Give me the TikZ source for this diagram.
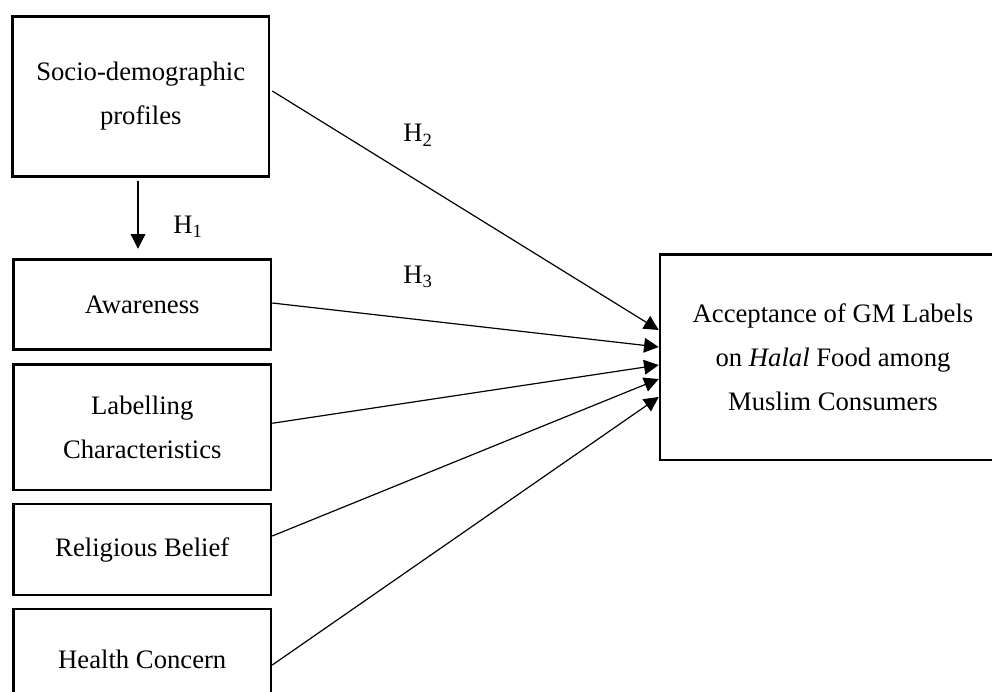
\documentclass[tikz,border=0pt]{standalone}
\usepackage{fontspec}
\setmainfont{Liberation Serif}
\usetikzlibrary{arrows.meta,calc}
\begin{document}
\begin{tikzpicture}[x=0.75pt,y=-0.75pt,
  box/.style={draw,line width=1.9pt,rectangle,inner sep=0pt,align=center,
    font=\fontsize{20}{33}\selectfont},
  conn/.style={line width=0.9pt,-{Triangle[length=11pt,width=11pt]}},
  hlab/.style={anchor=base west,inner sep=0pt,font=\fontsize{20}{24}\selectfont}]
\useasboundingbox (0,0) rectangle (992,692);
\clip (0,0) rectangle (992,692);
\node[box,minimum width=192.4pt,minimum height=120pt] (socio) at (140.75,96.5)
  {Socio-demographic\\profiles};
\node[box,minimum width=193.1pt,minimum height=67.5pt] (aware) at (142.25,304.5)
  {Awareness};
\node[box,minimum width=193.1pt,minimum height=94.1pt] (label) at (142.25,427.25)
  {Labelling\\Characteristics};
\node[box,minimum width=193.1pt,minimum height=68.25pt] (relig) at (142.25,549.5)
  {Religious Belief};
\node[box,minimum width=193.1pt,minimum height=75pt] (health) at (142.25,659)
  {Health Concern};
\node[box,minimum width=259.5pt,minimum height=154.1pt] (accept) at (833,357.3)
  {Acceptance of GM Labels\\on \textit{Halal} Food among\\Muslim Consumers};

\draw[conn,shorten <=2.6pt,shorten >=7.1pt] ($(socio.south)+(-2.75,0)$) -- ($(aware.north)+(-4.25,0)$);
\draw[conn] ($(socio.east)+(2,-5.5)$) -- ($(accept.west)+(0,-27.3)$);
\draw[conn] ($(aware.east)+(0,-1.5)$) -- ($(accept.west)+(0,-10.3)$);
\draw[conn] ($(label.east)+(0,-4)$) -- ($(accept.west)+(0,7.7)$);
\draw[conn] ($(relig.east)+(0,-13.5)$) -- ($(accept.west)+(0,21.7)$);
\draw[conn] ($(health.east)+(0,6)$) -- ($(accept.west)+(0,39.7)$);

\node[hlab] (h1) at (173,233) {H\textsubscript{1}};
\node[hlab] (h2) at (403,142) {H\textsubscript{2}};
\node[hlab] (h3) at (403,283) {H\textsubscript{3}};
\end{tikzpicture}
\end{document}
